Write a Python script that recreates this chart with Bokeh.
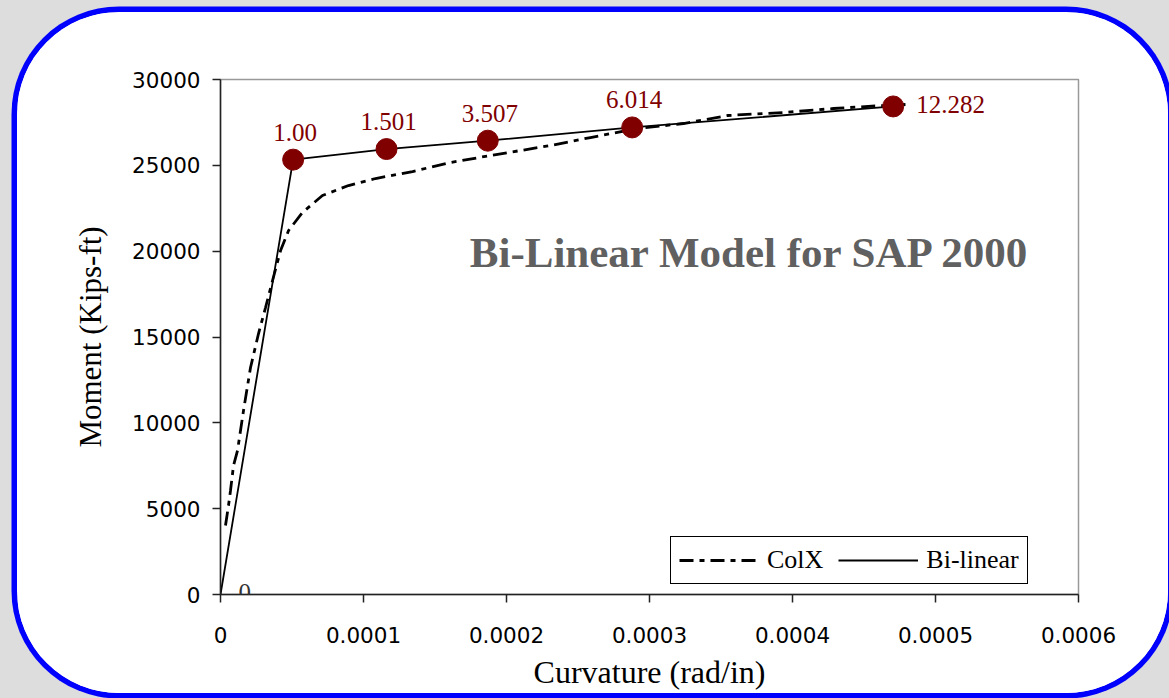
from bokeh.plotting import figure
from bokeh.models import (Range1d, FixedTicker, CustomJSTickFormatter,
                          Label, LabelSet, Legend, LegendItem, ColumnDataSource)
from bokeh.core.properties import value
from bokeh.embed import file_html
from bokeh.resources import INLINE

# ---- data ----
colx_x = [3.5e-6, 5.6e-6, 7.0e-6, 9.1e-6, 1.19e-5, 1.61e-5, 2.10e-5, 2.66e-5, 3.15e-5,
          3.64e-5, 4.20e-5, 4.76e-5, 5.73e-5, 7.13e-5, 8.95e-5, 1.084e-4, 1.343e-4,
          1.608e-4, 1.888e-4, 2.308e-4, 2.587e-4, 2.916e-4, 3.238e-4, 3.545e-4,
          3.937e-4, 4.287e-4, 4.636e-4, 4.79e-4]
colx_y = [4019, 5184, 6058, 7514, 8388, 10718, 13223, 15203, 16718,
          18291, 20038, 21203, 22252, 23242, 23824, 24232, 24640,
          25164, 25572, 26154, 26620, 27145, 27436, 27902,
          28077, 28310, 28484, 28543]

bl_x = [0, 5.08e-5, 1.161e-4, 1.869e-4, 2.879e-4, 4.704e-4]
bl_y = [0, 25332, 25949, 26436, 27209, 28430]
pt_labels = ["0", "1.00", "1.501", "3.507", "6.014", "12.282"]

x_ticks = [0, 0.0001, 0.0002, 0.0003, 0.0004, 0.0005, 0.0006]
y_ticks = [0, 5000, 10000, 15000, 20000, 25000, 30000]

DARK_RED = "#800000"

p = figure(width=1151, height=681, output_backend="svg", toolbar_location=None,
           x_range=Range1d(0, 0.0006), y_range=Range1d(0, 30000),
           min_border_left=203, min_border_right=90, min_border_top=67, min_border_bottom=99)
p.margin = (12, 0, 0, 17)
p.styles = {"border-radius": "102px", "overflow": "hidden",
            "box-shadow": "0 0 0 5.5px #0000ff, 0 0 0 3000px #dddddd"}

p.border_fill_color = "white"
p.background_fill_color = "white"
p.outline_line_color = "#999999"
p.outline_line_width = 1.5
p.grid.visible = False

# axes
for ax in (p.xaxis[0], p.yaxis[0]):
    ax.major_label_text_font = "DejaVu Sans"
    ax.major_label_text_font_size = "21.5px"
    ax.major_label_text_color = "black"
    ax.major_tick_out = 8
    ax.major_tick_in = 0
    ax.minor_tick_out = 0
    ax.minor_tick_in = 0
    ax.axis_line_width = 1.5
    ax.axis_line_color = "#222222"
    ax.major_tick_line_width = 1.5
    ax.major_tick_line_color = "#222222"
    ax.axis_label_text_font = "Liberation Serif"
    ax.axis_label_text_font_style = "normal"
    ax.axis_label_text_color = "black"

p.xaxis.ticker = FixedTicker(ticks=x_ticks)
p.xaxis.formatter = CustomJSTickFormatter(code="return tick == 0 ? '0' : tick.toFixed(4);")
p.xaxis.major_label_standoff = 24
p.xaxis.axis_label = "Curvature (rad/in)"
p.xaxis.axis_label_text_font_size = "32px"
p.xaxis.axis_label_standoff = 8

p.yaxis.ticker = FixedTicker(ticks=y_ticks)
p.yaxis.major_label_standoff = 12
p.yaxis.axis_label = "Moment (Kips-ft)"
p.yaxis.axis_label_text_font_size = "31px"
p.yaxis.axis_label_standoff = 21

# series
colx = p.line(colx_x, colx_y, line_color="black", line_width=2.8, line_dash="14 6 5 6")
bil = p.line(bl_x, bl_y, line_color="black", line_width=1.8)
p.scatter(bl_x[1:], bl_y[1:], size=21, fill_color=DARK_RED, line_color=DARK_RED)

# point labels
common = dict(text_font=value("Liberation Serif"), text_font_size=value("25px"),
              text_baseline="alphabetic")
src0 = ColumnDataSource(dict(x=bl_x[:1], y=bl_y[:1], t=pt_labels[:1]))
p.add_layout(LabelSet(x="x", y="y", text="t", source=src0, x_offset=18, y_offset=-6,
                      text_align="left", text_color="#333333", **common))
src1 = ColumnDataSource(dict(x=bl_x[1:5], y=bl_y[1:5], t=pt_labels[1:5]))
p.add_layout(LabelSet(x="x", y="y", text="t", source=src1, x_offset=2, y_offset=19,
                      text_align="center", text_color=DARK_RED, **common))
src2 = ColumnDataSource(dict(x=bl_x[5:], y=bl_y[5:], t=pt_labels[5:]))
p.add_layout(LabelSet(x="x", y="y", text="t", source=src2, x_offset=23, y_offset=-7,
                      text_align="left", text_color=DARK_RED, **common))

# title inside plot
p.add_layout(Label(x=3.706e-4, y=19922, text="Bi-Linear Model for SAP 2000",
                   text_align="center", text_baseline="alphabetic",
                   text_font="Liberation Serif", text_font_style="bold",
                   text_font_size="43px", text_color="#606060"))

legend = Legend(items=[LegendItem(label="ColX", renderers=[colx]),
                       LegendItem(label="Bi-linear", renderers=[bil])],
                orientation="horizontal", location=(450, 10),
                label_text_font="Liberation Serif", label_text_font_size="26px",
                label_text_color="black",
                glyph_width=80, glyph_height=20, label_standoff=8, spacing=15,
                padding=8, margin=0,
                border_line_color="black", border_line_width=1, border_line_alpha=1.0,
                background_fill_color="white", background_fill_alpha=1.0)
p.add_layout(legend)

open("out.html", "w").write(file_html(p, INLINE))
